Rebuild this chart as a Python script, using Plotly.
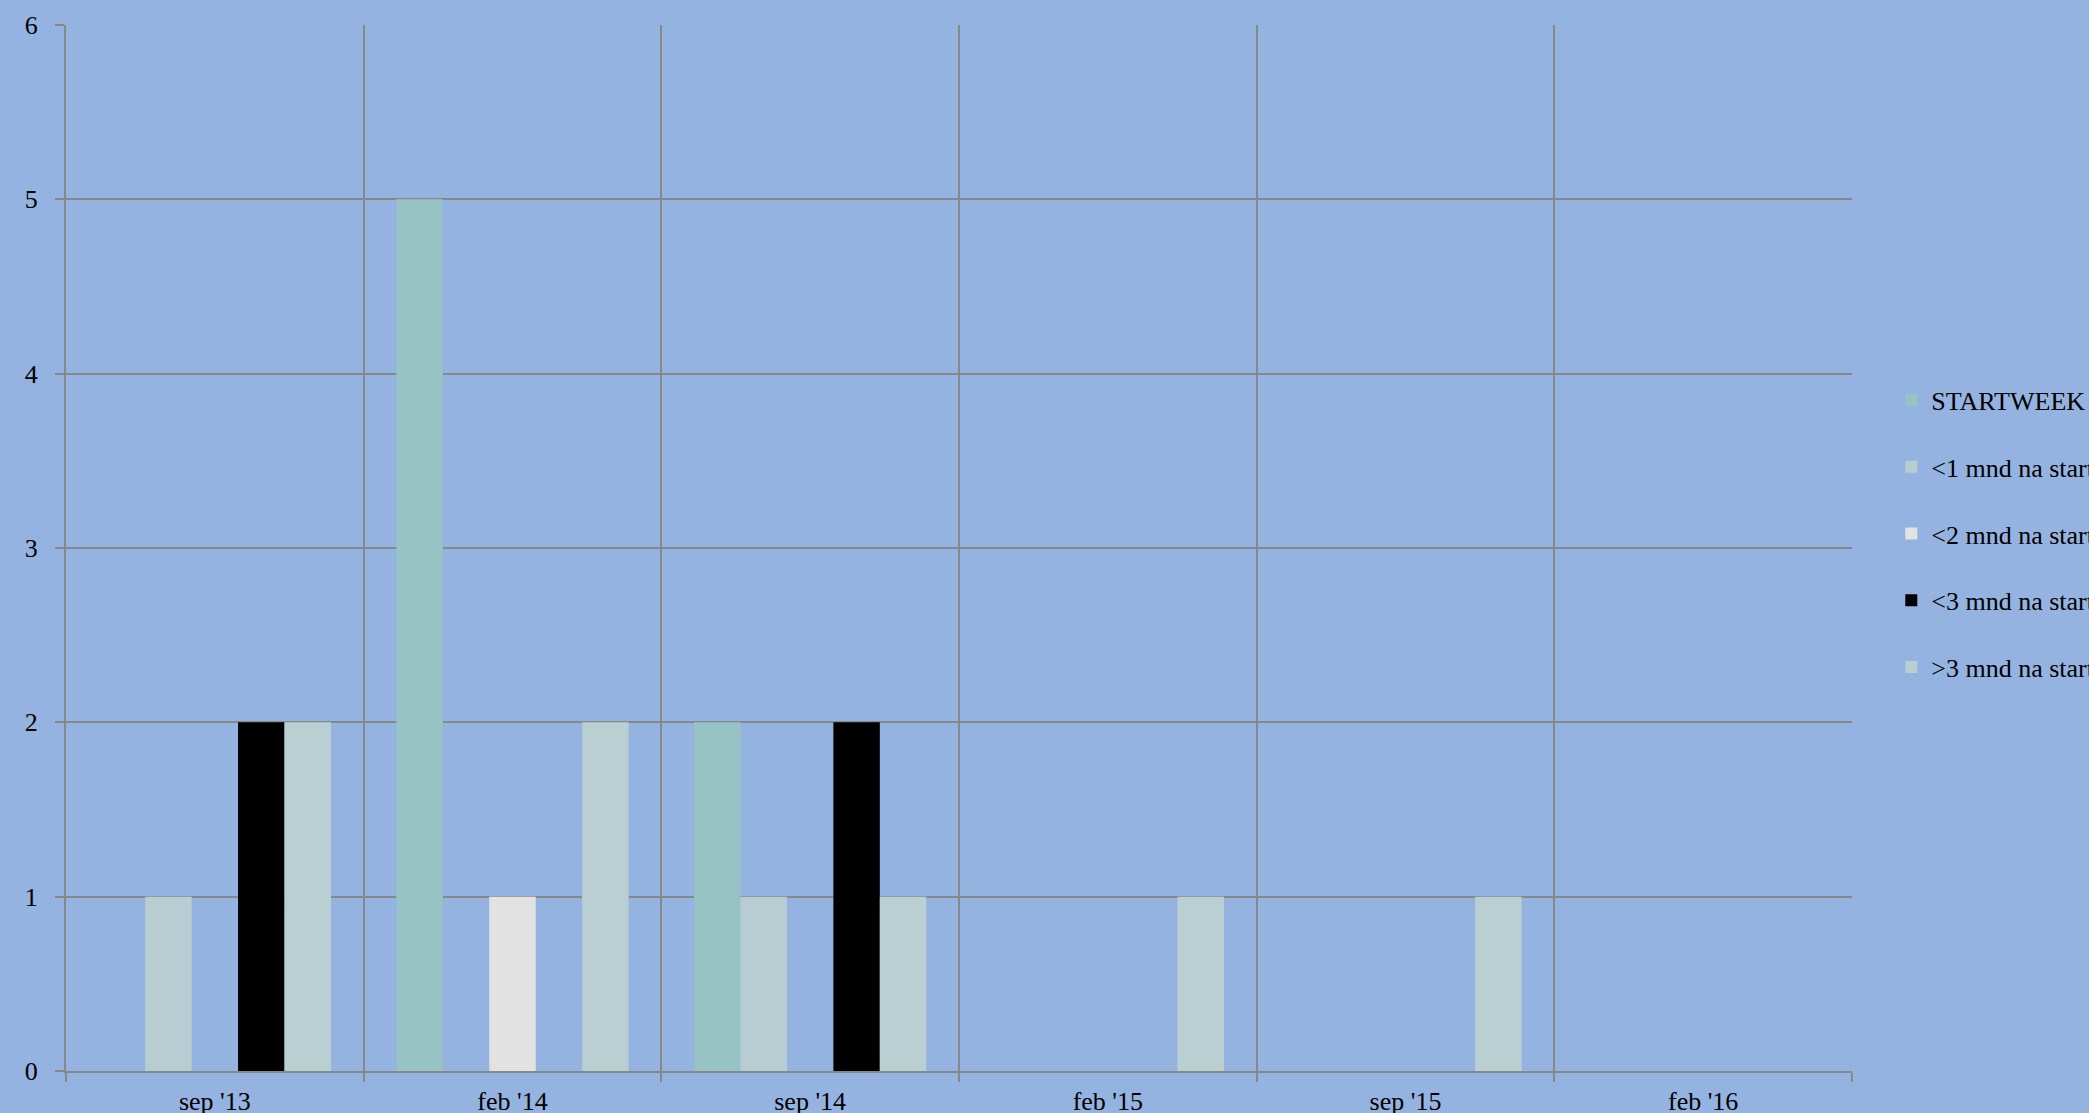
import plotly.graph_objects as go

categories = ["sep '13", "feb '14", "sep '14", "feb '15", "sep '15", "feb '16"]
series_names = ["STARTWEEK", "<1 mnd na start", "<2 mnd na start", "<3 mnd na start", ">3 mnd na start"]
startweek = [0, 5, 2, 0, 0, 0]
lt1 = [1, 0, 1, 0, 0, 0]
lt2 = [0, 1, 0, 0, 0, 0]
lt3 = [2, 0, 2, 0, 0, 0]
gt3 = [2, 2, 1, 1, 1, 0]
y_ticks = [0, 1, 2, 3, 4, 5, 6]

series_values = [startweek, lt1, lt2, lt3, gt3]
colors = ["#98c3c5", "#b8cdd1", "#e2e2e2", "#000000", "#b9cfd2"]

FONT = "Liberation Serif, Times New Roman, serif"
BG = "#95b3e0"
GRID = "#888888"

fig = go.Figure()
for i, (name, vals, col) in enumerate(zip(series_names, series_values, colors)):
    fig.add_trace(go.Bar(
        x=categories, y=vals, name=name,
        marker=dict(color=col, line=dict(width=0)),
        legendgroup=f"g{i}",
    ))

fig.update_layout(
    width=2089, height=1113,
    paper_bgcolor=BG, plot_bgcolor=BG,
    margin=dict(l=66, r=237, t=25, b=42, autoexpand=False),
    barmode="group", bargap=0.22, bargroupgap=0,
    font=dict(family=FONT, size=26, color="black"),
    showlegend=True,
    legend=dict(
        x=1.022, y=0.664, xanchor="left", yanchor="top",
        bgcolor="rgba(0,0,0,0)",
        font=dict(family=FONT, size=26, color="black"),
        tracegroupgap=30,
        itemwidth=30,
    ),
)
fig.update_xaxes(
    type="category", tickson="boundaries",
    showgrid=True, gridcolor=GRID, gridwidth=2,
    showline=True, linecolor=GRID, linewidth=2,
    ticks="outside", ticklen=9, tickcolor=GRID, tickwidth=2,
    tickfont=dict(family=FONT, size=26, color="black"),
    ticklabelstandoff=6,
)
fig.update_yaxes(
    range=[0, 6], tickvals=y_ticks,
    showgrid=True, gridcolor=GRID, gridwidth=2,
    showline=True, linecolor=GRID, linewidth=2,
    ticks="outside", ticklen=9, tickcolor=GRID, tickwidth=2,
    tickfont=dict(family=FONT, size=26, color="black"),
    ticklabelstandoff=12, zeroline=False,
)

fig.write_html(
    "out.html",
    config={"displayModeBar": False},
    post_script="document.body.style.margin='0';document.body.style.overflow='hidden';",
)
